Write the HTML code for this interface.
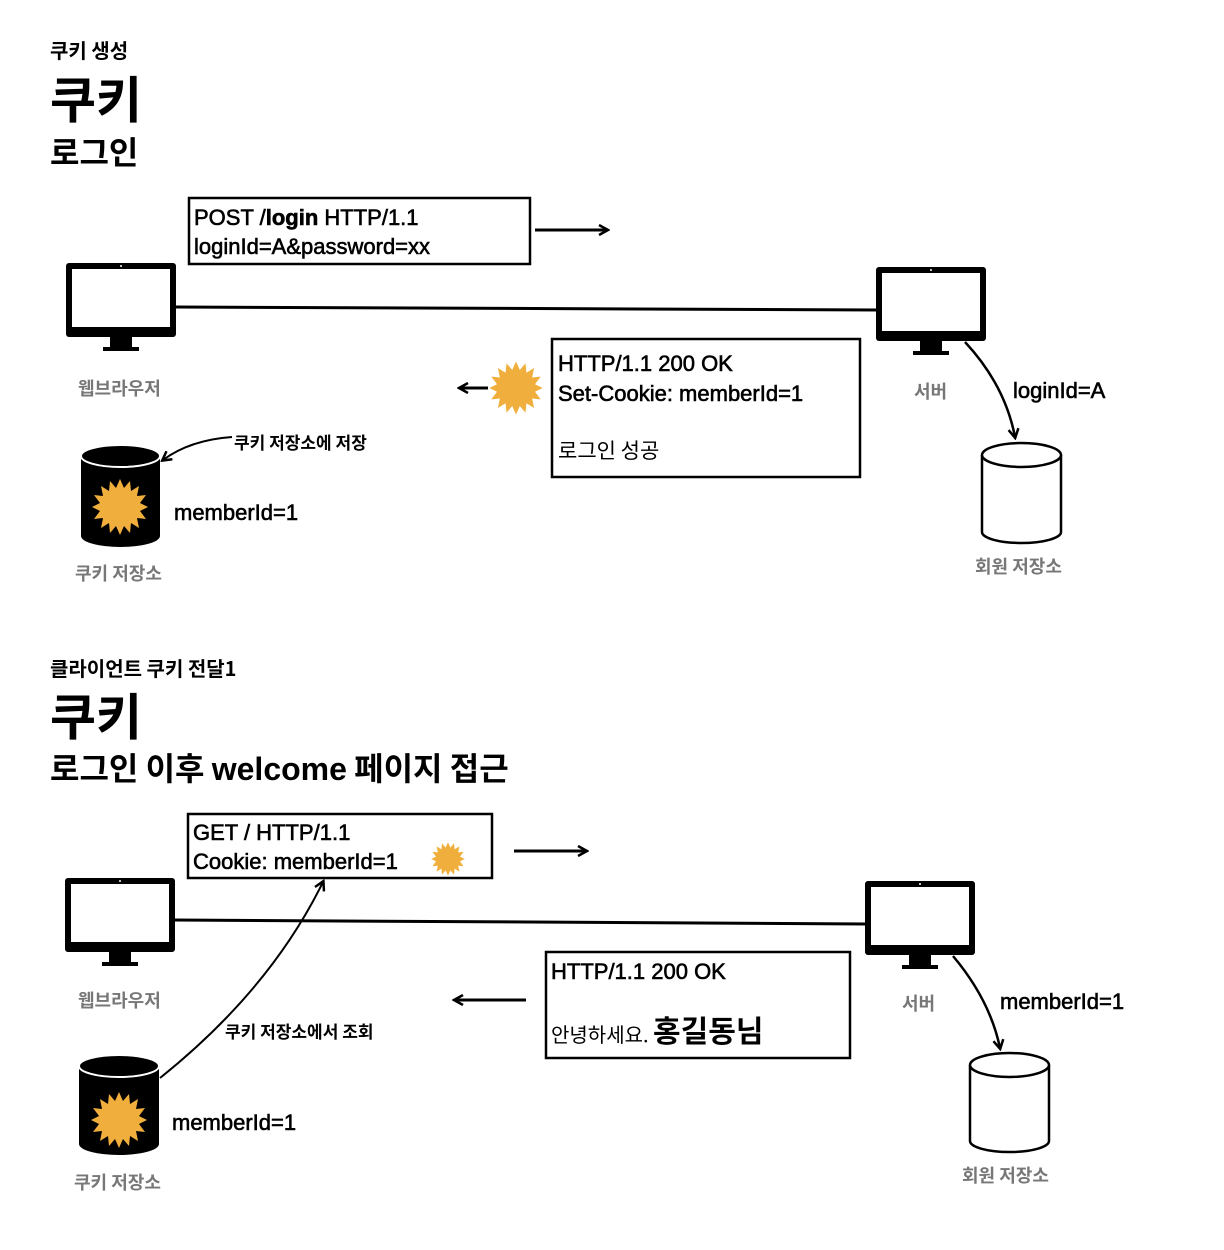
<!DOCTYPE html>
<html><head><meta charset="utf-8"><style>
body{margin:0;background:#fff}
svg{display:block}
text{font-family:"Liberation Sans","Noto Sans CJK KR",sans-serif}
.k{font-family:"Noto Sans CJK KR","Liberation Sans",sans-serif;font-weight:bold}
.n{font-weight:normal}
.m{stroke:#000;stroke-width:0.6}
.g{fill:#777}
</style></head><body>
<svg width="1224" height="1250" viewBox="0 0 1224 1250" xmlns="http://www.w3.org/2000/svg">
<defs>
<g id="mon">
<rect x="0" y="0" width="110" height="74" rx="3" fill="#000"/>
<rect x="6" y="6" width="98" height="58" fill="#fff"/>
<circle cx="55" cy="3" r="1" fill="#fff"/>
<rect x="44" y="74" width="22" height="11" fill="#000"/>
<rect x="37" y="84" width="36" height="4" fill="#000"/>
</g>
<polygon id="sun" fill="#f0ae3c" points="0,-28 4,-19 10,-26 11,-16 19,-21 17,-11 26,-12 20,-4 28,0 20,4 26,12 17,11 19,21 11,16 10,26 4,19 0,28 -4,19 -10,26 -11,16 -19,21 -17,11 -26,12 -20,4 -28,0 -20,-4 -26,-12 -17,-11 -19,-21 -11,-16 -10,-26 -4,-19"/>
<marker id="ah" markerWidth="12" markerHeight="12" refX="9" refY="6" orient="auto" markerUnits="userSpaceOnUse"><path d="M1,1 L10,6 L1,11" fill="none" stroke="#000" stroke-width="2.5"/></marker>
</defs>

<text x="50" y="58" class="k" font-size="20">쿠키 생성</text>
<text x="50" y="118" class="k" font-size="50">쿠키</text>
<text x="50" y="164" class="k" font-size="32">로그인</text>

<rect x="189" y="198" width="341" height="66" fill="none" stroke="#000" stroke-width="2.5"/>
<text x="194" y="225" font-size="22" class="m">POST /<tspan font-weight="bold">login</tspan> HTTP/1.1</text>
<text x="194" y="254" font-size="22" class="m">loginId=A&amp;password=xx</text>
<line x1="535" y1="230" x2="607" y2="230" stroke="#000" stroke-width="3" marker-end="url(#ah)"/>

<use href="#mon" x="66" y="263"/>
<use href="#mon" x="876" y="267"/>
<line x1="176" y1="307" x2="877" y2="310" stroke="#000" stroke-width="3"/>
<text x="78" y="395" class="k g" font-size="18">웹브라우저</text>
<text x="914" y="398" class="k g" font-size="18">서버</text>

<rect x="552" y="339" width="308" height="138" fill="none" stroke="#000" stroke-width="2.5"/>
<text x="558" y="371" font-size="22" class="m">HTTP/1.1 200 OK</text>
<text x="558" y="401" font-size="22" class="m">Set-Cookie: memberId=1</text>
<text x="558" y="458" class="k n" font-size="21">로그인 성공</text>
<use href="#sun" transform="translate(516 388) scale(0.95)"/>
<line x1="488" y1="388" x2="460" y2="388" stroke="#000" stroke-width="3" marker-end="url(#ah)"/>

<path d="M965,342 Q1005,385 1015,437" fill="none" stroke="#000" stroke-width="2.5" marker-end="url(#ah)"/>
<text x="1013" y="398" font-size="22" class="m">loginId=A</text>

<path d="M81,456 L81,536 A39.5,11 0 0 0 160,536 L160,456 Z" fill="#000"/>
<ellipse cx="120.5" cy="456" rx="39.5" ry="11" fill="#000" stroke="#fff" stroke-width="2"/>
<use href="#sun" transform="translate(120 507)"/>
<path d="M232,437 Q190,440 163,460" fill="none" stroke="#000" stroke-width="2" marker-end="url(#ah)"/>
<text x="234" y="449" class="k" font-size="17">쿠키 저장소에 저장</text>
<text x="174" y="520" font-size="22" class="m">memberId=1</text>
<text x="75" y="580" class="k g" font-size="18">쿠키 저장소</text>

<path d="M982,455 L982,532 A39.5,11 0 0 0 1061,532 L1061,455" fill="#fff" stroke="#000" stroke-width="2.5"/>
<ellipse cx="1021.5" cy="455" rx="39.5" ry="12" fill="#fff" stroke="#000" stroke-width="2.5"/>
<text x="975" y="573" class="k g" font-size="18">회원 저장소</text>

<text x="50" y="676" class="k" font-size="20">클라이언트 쿠키 전달1</text>
<text x="50" y="735" class="k" font-size="50">쿠키</text>
<text x="50" y="780" class="k" font-size="32">로그인 이후 <tspan font-family="Liberation Sans">welcome</tspan> 페이지 접근</text>

<rect x="188" y="814" width="304" height="64" fill="none" stroke="#000" stroke-width="2.5"/>
<text x="193" y="840" font-size="22" class="m">GET / HTTP/1.1</text>
<text x="193" y="869" font-size="22" class="m">Cookie: memberId=1</text>
<use href="#sun" transform="translate(448 859) scale(0.6)"/>
<line x1="514" y1="851" x2="586" y2="851" stroke="#000" stroke-width="3" marker-end="url(#ah)"/>

<use href="#mon" x="65" y="878"/>
<use href="#mon" x="865" y="881"/>
<line x1="174" y1="920" x2="866" y2="924" stroke="#000" stroke-width="3"/>
<text x="78" y="1007" class="k g" font-size="18">웹브라우저</text>
<text x="902" y="1010" class="k g" font-size="18">서버</text>

<rect x="546" y="952" width="304" height="106" fill="none" stroke="#000" stroke-width="2.5"/>
<text x="551" y="979" font-size="22" class="m">HTTP/1.1 200 OK</text>
<text x="551" y="1042" class="k n" font-size="20">안녕하세요. <tspan font-weight="bold" font-size="30">홍길동님</tspan></text>
<line x1="526" y1="1000" x2="455" y2="1000" stroke="#000" stroke-width="3" marker-end="url(#ah)"/>

<path d="M953,956 Q990,1000 1000,1048" fill="none" stroke="#000" stroke-width="2.5" marker-end="url(#ah)"/>
<text x="1000" y="1009" font-size="22" class="m">memberId=1</text>

<path d="M79,1066 L79,1144 A40,11 0 0 0 159,1144 L159,1066 Z" fill="#000"/>
<ellipse cx="119" cy="1066" rx="40" ry="11" fill="#000" stroke="#fff" stroke-width="2"/>
<use href="#sun" transform="translate(119 1120)"/>
<path d="M160,1078 Q270,990 323,882" fill="none" stroke="#000" stroke-width="2" marker-end="url(#ah)"/>
<text x="225" y="1038" class="k" font-size="17">쿠키 저장소에서 조회</text>
<text x="172" y="1130" font-size="22" class="m">memberId=1</text>
<text x="74" y="1189" class="k g" font-size="18">쿠키 저장소</text>

<path d="M970,1065 L970,1141 A39.5,11 0 0 0 1049,1141 L1049,1065" fill="#fff" stroke="#000" stroke-width="2.5"/>
<ellipse cx="1009.5" cy="1065" rx="39.5" ry="12" fill="#fff" stroke="#000" stroke-width="2.5"/>
<text x="962" y="1182" class="k g" font-size="18">회원 저장소</text>
</svg>
</body></html>
